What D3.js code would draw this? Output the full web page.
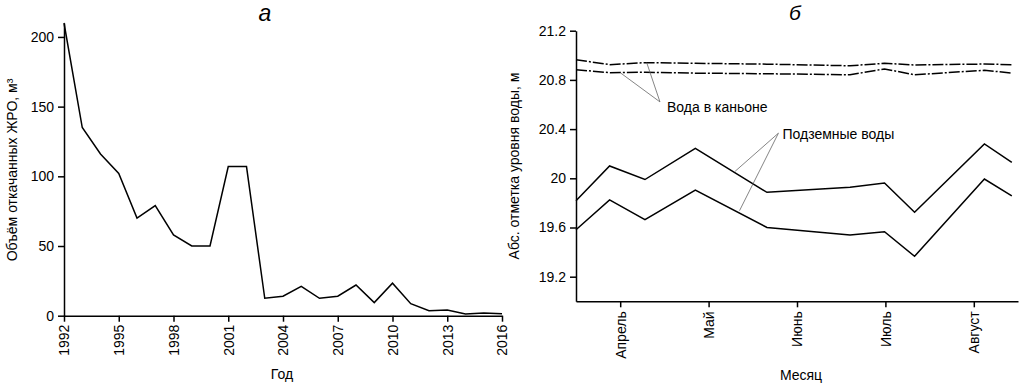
<!DOCTYPE html>
<html>
<head>
<meta charset="utf-8">
<script src="https://cdn.jsdelivr.net/npm/d3@7"></script>
<style>
  body { margin: 0; background: #fff; }
  svg { font-family: "Liberation Sans", Arial, sans-serif; }
  .axis path, .axis line { stroke: #000; stroke-width: 1.5; }
  .axis text { font-size: 14px; fill: #000; }
</style>
</head>
<body>
<script>
'use strict';

// left panel: pumped-out volume per year
const years = [1992, 1993, 1994, 1995, 1996, 1997, 1998, 1999, 2000, 2001, 2002, 2003,
  2004, 2005, 2006, 2007, 2008, 2009, 2010, 2011, 2012, 2013, 2014, 2015, 2016];
const volume = [210, 135, 116, 102, 70, 79, 58, 50, 50, 107, 107, 12.5,
  14, 21, 12.5, 14, 22, 9.4, 23.3, 8.6, 3.6, 4, 1.2, 2, 1.4];
const yearTicks = [1992, 1995, 1998, 2001, 2004, 2007, 2010, 2013, 2016];
const volumeTicks = [0, 50, 100, 150, 200];

// right panel: water levels, x is position in months (0 = April)
const monthLabels = ["Апрель", "Май", "Июнь", "Июль", "Август"];
const surveyPos = [-0.5, -0.12, 0.28, 0.85, 1.66, 2.6, 2.99, 3.33, 4.12, 4.43];
const canyonUpper = [20.964, 20.924, 20.94, 20.935, 20.928, 20.915, 20.935, 20.921, 20.929, 20.924];
const canyonLower = [20.883, 20.859, 20.862, 20.855, 20.85, 20.842, 20.889, 20.842, 20.878, 20.856];
const groundUpper = [19.818, 20.10, 19.99, 20.244, 19.886, 19.927, 19.962, 19.724, 20.279, 20.13];
const groundLower = [19.582, 19.824, 19.663, 19.905, 19.60, 19.54, 19.566, 19.366, 19.994, 19.858];
const levelTicks = [19.2, 19.6, 20, 20.4, 20.8, 21.2];

const svg = d3.select("body").append("svg")
  .attr("width", 1022)
  .attr("height", 385);

// ---------- panel а ----------
const xYear = d3.scaleLinear().domain([1992, 2016]).range([64, 502]);
const yVol = d3.scaleLinear().domain([0, 210]).range([315.7, 23]);

svg.append("g")
  .attr("class", "axis")
  .attr("transform", "translate(0," + yVol(0) + ")")
  .call(d3.axisBottom(xYear).tickValues(yearTicks).tickFormat(d3.format("d")).tickSizeOuter(0))
  .selectAll("text")
    .attr("transform", "rotate(-90)")
    .attr("x", -9)
    .attr("y", 0)
    .attr("dy", "0.35em")
    .style("text-anchor", "end");

svg.append("g")
  .attr("class", "axis")
  .attr("transform", "translate(" + xYear(1992) + ",0)")
  .call(d3.axisLeft(yVol).tickValues(volumeTicks).tickSizeOuter(0).tickPadding(4));

svg.append("path")
  .datum(years)
  .attr("fill", "none")
  .attr("stroke", "#000")
  .attr("stroke-width", 1.5)
  .attr("stroke-linejoin", "miter")
  .attr("d", d3.line()
    .x(d => xYear(d))
    .y((d, i) => yVol(volume[i])));

svg.append("text")
  .attr("transform", "translate(17,170)rotate(-90)")
  .attr("text-anchor", "middle")
  .style("font-size", "14px")
  .text("Объём откачанных ЖРО, м³");

svg.append("text")
  .attr("x", 282).attr("y", 379)
  .attr("text-anchor", "middle")
  .style("font-size", "14px")
  .text("Год");

svg.append("text")
  .attr("x", 265).attr("y", 21)
  .attr("text-anchor", "middle")
  .style("font-size", "23px")
  .style("font-style", "italic")
  .text("а");

// ---------- panel б ----------
const xMonth = d3.scaleLinear().domain([-0.5, 4.5]).range([576, 1018]);
const yLevel = d3.scaleLinear().domain([19, 21.2]).range([301.3, 30.7]);

svg.append("g")
  .attr("class", "axis")
  .attr("transform", "translate(0," + yLevel(19) + ")")
  .call(d3.axisBottom(xMonth).tickValues([0, 1, 2, 3, 4]).tickFormat(i => monthLabels[i]).tickSizeOuter(0))
  .selectAll("text")
    .attr("transform", "rotate(-90)")
    .attr("x", -10)
    .attr("y", 0)
    .attr("dy", "0.35em")
    .style("text-anchor", "end");

svg.append("g")
  .attr("class", "axis")
  .attr("transform", "translate(" + xMonth(-0.5) + ",0)")
  .call(d3.axisLeft(yLevel).tickValues(levelTicks).tickFormat(d3.format("")).tickSizeOuter(0).tickPadding(4));

const levelLine = values => d3.line()
  .x((d, i) => xMonth(surveyPos[i]))
  .y(d => yLevel(d))(values);

[canyonUpper, canyonLower].forEach(series => {
  svg.append("path")
    .attr("fill", "none")
    .attr("stroke", "#000")
    .attr("stroke-width", 1.5)
    .attr("stroke-dasharray", "11,2,2,2")
    .attr("d", levelLine(series));
});

[groundUpper, groundLower].forEach(series => {
  svg.append("path")
    .attr("fill", "none")
    .attr("stroke", "#000")
    .attr("stroke-width", 1.5)
    .attr("d", levelLine(series));
});

// callouts with thin leader lines
const callouts = [
  { text: "Вода в каньоне", at: [0.45, 20.621], dx: 7, dy: 10,
    targets: [[0.005, 20.856], [0.30, 20.94]] },
  { text: "Подземные воды", at: [1.79, 20.367], dx: 4, dy: 6,
    targets: [[1.30, 20.057], [1.35, 19.737]] }
];

callouts.forEach(c => {
  const ax = xMonth(c.at[0]), ay = yLevel(c.at[1]);
  c.targets.forEach(t => {
    svg.append("line")
      .attr("x1", ax).attr("y1", ay)
      .attr("x2", xMonth(t[0])).attr("y2", yLevel(t[1]))
      .attr("stroke", "#666")
      .attr("stroke-width", 0.8);
  });
  svg.append("text")
    .attr("x", ax + c.dx).attr("y", ay + c.dy)
    .style("font-size", "14px")
    .text(c.text);
});

svg.append("text")
  .attr("transform", "translate(519,166)rotate(-90)")
  .attr("text-anchor", "middle")
  .style("font-size", "14px")
  .text("Абс. отметка уровня воды, м");

svg.append("text")
  .attr("x", 801).attr("y", 380)
  .attr("text-anchor", "middle")
  .style("font-size", "14px")
  .text("Месяц");

svg.append("text")
  .attr("x", 795).attr("y", 20)
  .attr("text-anchor", "middle")
  .style("font-size", "21px")
  .style("font-style", "italic")
  .text("б");
</script>
</body>
</html>
